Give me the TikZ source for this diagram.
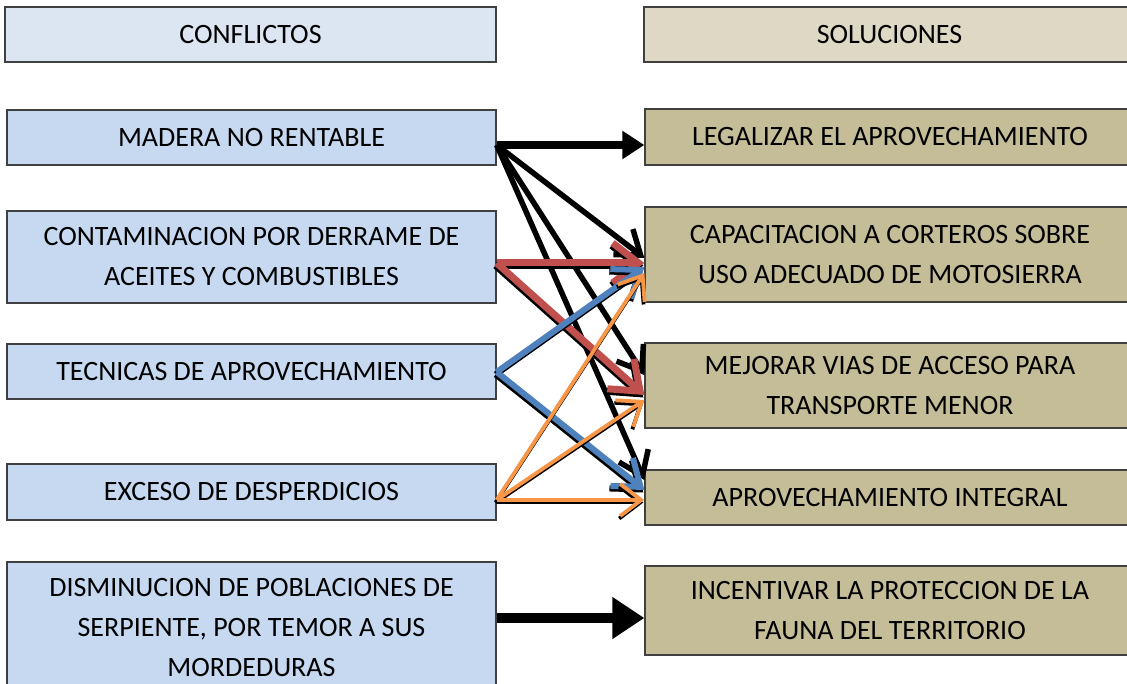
\documentclass[tikz,border=0pt]{standalone}
\usepackage{fontspec}
\setmainfont{Carlito}
\usetikzlibrary{arrows.meta,calc,positioning}

\definecolor{confhead}{HTML}{DCE6F2}
\definecolor{confbox}{HTML}{C6D9F1}
\definecolor{solhead}{HTML}{DDD9C4}
\definecolor{solbox}{HTML}{C4BD97}
\definecolor{redarr}{HTML}{C0504D}
\definecolor{bluearr}{HTML}{4F81BD}
\definecolor{orangearr}{HTML}{F79646}

\tikzset{
  box/.style={draw=black!75, line width=1.3pt, rectangle, inner sep=0pt, align=center,
    font=\fontsize{28}{40}\selectfont},
  conf/.style={box, fill=confbox, minimum width=489pt},
  sol/.style={box, fill=solbox, minimum width=490pt},
  blackarr/.style={draw=black, line width=5.5pt, -{Straight Barb[length=22pt,width=32pt]}},
  redarr/.style={draw=redarr, line width=7pt, -{Straight Barb[length=26pt,width=40pt]}},
  bluearr/.style={draw=bluearr, line width=6pt, -{Straight Barb[length=24pt,width=36pt]}},
  orangearr/.style={draw=orangearr, line width=3.8pt, -{Straight Barb[length=21pt,width=32pt]}},
  shadowof/.style={#1, draw=black, transform canvas={xshift=-1pt,yshift=-2.5pt}},
}

\begin{document}
\begin{tikzpicture}[x=1pt,y=-1pt]
  \useasboundingbox (0,0) rectangle (1127,684);
  % headers
  \node[box, fill=confhead, minimum width=491pt, minimum height=55pt] (conflictos) at (250.5,34.5) {CONFLICTOS};
  \node[box, fill=solhead, minimum width=491pt, minimum height=55pt] (soluciones) at (889.5,34.5) {SOLUCIONES};
  % conflictos
  \node[conf, minimum height=55pt] (madera)   at (251.5,137.5) {MADERA NO RENTABLE};
  \node[conf, minimum height=92pt] (contam)   at (251.5,257)   {CONTAMINACION POR DERRAME DE\\ACEITES Y COMBUSTIBLES};
  \node[conf, minimum height=55pt] (tecnicas) at (251.5,371.5) {TECNICAS DE APROVECHAMIENTO};
  \node[conf, minimum height=56pt] (exceso)   at (251.5,492)   {EXCESO DE DESPERDICIOS};
  \node[conf, minimum height=132pt] (dismin)  at (251.5,628)   {DISMINUCION DE POBLACIONES DE\\SERPIENTE, POR TEMOR A SUS\\MORDEDURAS};
  % soluciones
  \node[sol, minimum height=56pt] (legal)   at (890,137)   {LEGALIZAR EL APROVECHAMIENTO};
  \node[sol, minimum height=95pt] (capac)   at (890,254.5) {CAPACITACION A CORTEROS SOBRE\\USO ADECUADO DE MOTOSIERRA};
  \node[sol, minimum height=85pt] (mejorar) at (890,385.5) {MEJORAR VIAS DE ACCESO PARA\\TRANSPORTE MENOR};
  \node[sol, minimum height=55pt] (aprov)   at (890,497.5) {APROVECHAMIENTO INTEGRAL};
  \node[sol, minimum height=89pt] (incent)  at (890,610.5) {INCENTIVAR LA PROTECCION DE LA\\FAUNA DEL TERRITORIO};

  % madera no rentable
  \draw[black, line width=8pt, -{Triangle[length=22pt,width=27pt]}]
    ([yshift=-7.5pt]madera.east) -- ([yshift=-8pt]legal.west);
  \draw[blackarr] ([yshift=-7.5pt]madera.east) -- ([yshift=-3.5pt]capac.west);
  \draw[blackarr] ([yshift=-7.5pt]madera.east) -- ([yshift=10.5pt]mejorar.west);
  \draw[blackarr] ([yshift=-7.5pt]madera.east) -- ([yshift=17.5pt]aprov.west);
  % colored arrows with black shadow
  \foreach \sty/\from/\fs/\to/\ts in {
      redarr/contam/-6pt/capac/-8.5pt,
      redarr/contam/-6pt/mejorar/-9.5pt,
      bluearr/tecnicas/-0.5pt/capac/-12.5pt,
      bluearr/tecnicas/-0.5pt/aprov/7.5pt,
      orangearr/exceso/-8pt/capac/-18.5pt,
      orangearr/exceso/-8pt/mejorar/-14.5pt,
      orangearr/exceso/-8pt/aprov/-2.5pt}
  {
    \draw[shadowof=\sty] ([yshift=\fs]\from.east) -- ([yshift=\ts]\to.west);
    \draw[\sty] ([yshift=\fs]\from.east) -- ([yshift=\ts]\to.west);
  }
  % disminucion
  \draw[black, line width=10pt, -{Triangle[length=32pt,width=40pt]}]
    ([yshift=10pt]dismin.east) -- ([yshift=-7.5pt]incent.west);
\end{tikzpicture}
\end{document}
